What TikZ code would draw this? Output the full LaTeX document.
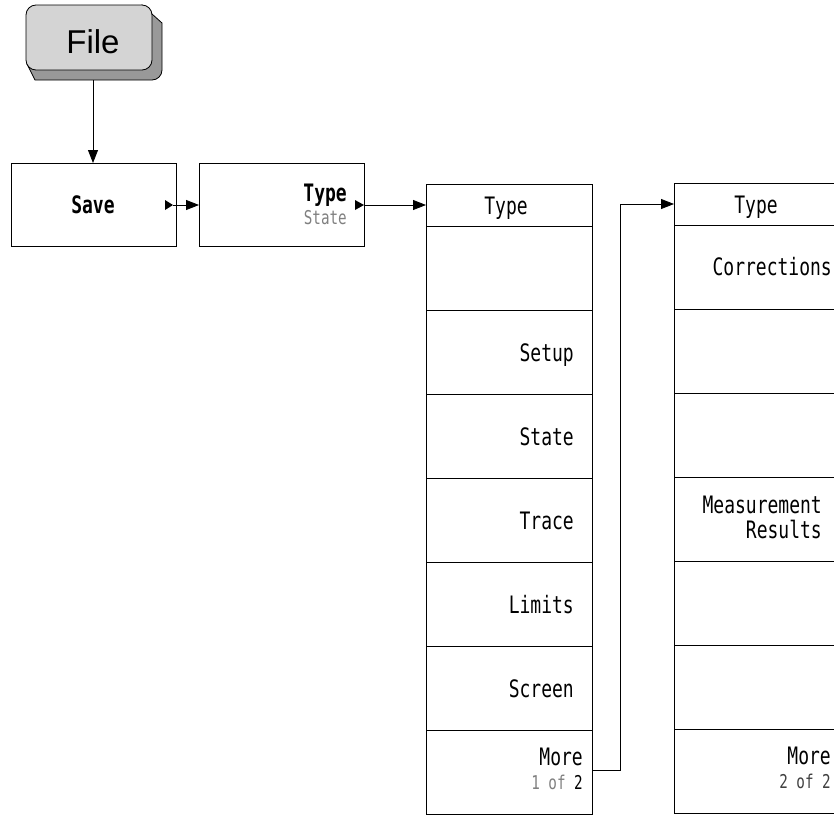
\documentclass[tikz,border=0pt]{standalone}
\usepackage{fontspec}
\usetikzlibrary{arrows.meta}
\newfontfamily\hpfont{DejaVu Sans Mono}[FakeStretch=0.75]
\newfontfamily\filefont{Liberation Sans}
\definecolor{keyface}{HTML}{D4D4D4}
\definecolor{keyshadow}{HTML}{999999}
\definecolor{subgray}{HTML}{808080}
\tikzset{
  softkey/.style={draw=black, line width=0.8pt, rectangle, minimum width=166pt, inner sep=0pt, outer sep=0pt},
  rowkey/.style={softkey, minimum height=84pt},
  headkey/.style={softkey, minimum height=42pt},
  bigkey/.style={draw=black, line width=0.8pt, rectangle, minimum width=165pt, minimum height=83pt, inner sep=0pt, outer sep=0pt},
  lbl/.style={font=\hpfont\fontsize{24}{25}\selectfont, inner sep=0pt, align=right},
  sublbl/.style={font=\hpfont\fontsize{19}{20}\selectfont, text=subgray, inner sep=0pt},
  conn/.style={draw=black, line width=0.8pt, -{Triangle[length=13pt,width=10pt]}},
  marker/.style={fill=black, draw=none},
}
\begin{document}
\begin{tikzpicture}[x=1pt, y=-1pt]
\useasboundingbox (0,0) rectangle (834,814);
\clip (0,0) rectangle (834,814);
% File hardkey
\filldraw[fill=keyshadow, draw=black, line width=0.8pt]
  (142,5) -- (162,23) -- (162,70) arc[start angle=0, end angle=90, radius=10] -- (35,80) -- (27,64) -- cycle;
\node[draw=black, line width=0.8pt, fill=keyface, rounded corners=10pt, minimum width=126pt, minimum height=65pt, inner sep=0pt, outer sep=0pt,
  font=\filefont\fontsize{33}{35}\selectfont] (file) at (89,37.5) {};
\node[font=\filefont\fontsize{33}{35}\selectfont, inner sep=0pt, anchor=base] (filet) at (93,53) {File};
\coordinate (fileb) at (93,80);
% Save and Type
\node[bigkey] (save) at (93.5,204.5) {};
\node[lbl, font=\hpfont\bfseries\fontsize{24}{25}\selectfont, anchor=base] (savet) at (93,213) {Save};
\node[bigkey] (type) at (281.5,204.5) {};
\node[lbl, font=\hpfont\bfseries\fontsize{24}{25}\selectfont, anchor=base east] (typet) at (347,201) {Type};
\node[sublbl, anchor=base east] (typest) at (347,224) {State};
\fill[marker] (165,200) -- (173,205) -- (165,210) -- cycle;
\coordinate (savetip) at (173,205);
\fill[marker] (355,200) -- (364,205) -- (355,210) -- cycle;
\coordinate (typetip) at (364,205);
% Column 1
\node[headkey] (ah) at (509,205) {};
\node[lbl, anchor=base] at (506,214) {Type};
\foreach \i in {1,...,7} {
  \node[rowkey] (a\i) at (509,{226+84*\i-42}) {};
}
\node[lbl, anchor=base east] at (574,361) {Setup};
\node[lbl, anchor=base east] at (574,445) {State};
\node[lbl, anchor=base east] at (574,529) {Trace};
\node[lbl, anchor=base east] at (574,613) {Limits};
\node[lbl, anchor=base east] at (574,697) {Screen};
\node[lbl, anchor=base east] at (583,765) {More};
\node[sublbl, anchor=base east] at (583,789) {1 of \textcolor{black}{2}};
% Column 2
\node[headkey] (bh) at (757,204) {};
\node[lbl, anchor=base] at (756,213) {Type};
\foreach \i in {1,...,7} {
  \node[rowkey] (b\i) at (757,{225+84*\i-42}) {};
}
\node[lbl, anchor=base east] at (832,275) {Corrections};
\node[lbl, anchor=base east] at (822,538) {Measurement\\Results};
\node[lbl, anchor=base east] at (831,764) {More};
\node[sublbl, text=black!75, anchor=base east] at (831,788) {2 of 2};
% connectors
\draw[conn] (fileb) -- (save.north -| fileb);
\draw[conn] (savetip) -- (type.west |- savetip);
\draw[conn] (typetip) -- (ah.west |- typetip);
\coordinate (turn) at (620,770);
\draw[conn] (a7.east |- turn) -- (turn) -- (turn |- bh.west) -- (bh.west);
\end{tikzpicture}
\end{document}
